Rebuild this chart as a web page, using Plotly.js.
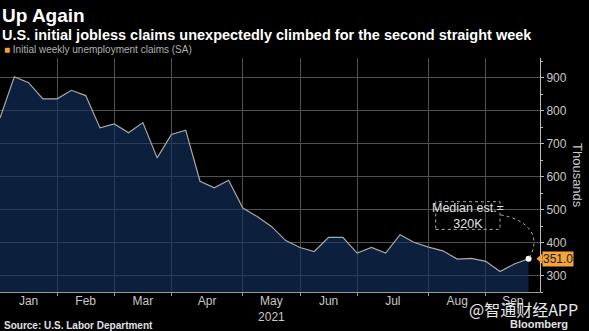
<!DOCTYPE html>
<html>
<head>
<meta charset="utf-8">
<script src="https://cdn.plot.ly/plotly-3.0.1.min.js"></script>
<style>
html,body{margin:0;padding:0;background:#000;}
#chart{width:589px;height:331px;}
</style>
</head>
<body>
<div id="chart"></div>
<script>
// Week-ending dates (2021) and initial weekly jobless claims (thousands, SA)
var weeks = ["2021-01-02","2021-01-09","2021-01-16","2021-01-23","2021-01-30",
  "2021-02-06","2021-02-13","2021-02-20","2021-02-27","2021-03-06","2021-03-13",
  "2021-03-20","2021-03-27","2021-04-03","2021-04-10","2021-04-17","2021-04-24",
  "2021-05-01","2021-05-08","2021-05-15","2021-05-22","2021-05-29","2021-06-05",
  "2021-06-12","2021-06-19","2021-06-26","2021-07-03","2021-07-10","2021-07-17",
  "2021-07-24","2021-07-31","2021-08-07","2021-08-14","2021-08-21","2021-08-28",
  "2021-09-04","2021-09-11","2021-09-18"];
var claims = [778, 903, 885, 836, 836, 862, 846, 748, 760, 733, 764, 657, 728, 741,
  586, 566, 589, 505, 479, 449, 406, 385, 373, 416, 416, 368, 385, 368, 424, 400,
  386, 375, 350, 352, 343, 312, 335, 351];
var monthStarts = ["2021-02-01","2021-03-01","2021-04-01","2021-05-01","2021-06-01",
  "2021-07-01","2021-08-01","2021-09-01"];
var monthLabels = ["Jan","Feb","Mar","Apr","May<br>2021","Jun","Jul","Aug","Sep"];
var yTicks = [300, 400, 500, 600, 700, 800, 900];
var medianEst = 320;

var xIdx = weeks.map(function(_, i){ return i; });
var xMax = 37.8;
// month boundary = last week ending on or before the 1st of the month
var bounds = monthStarts.map(function(m){
  var k = 0;
  for (var i = 0; i < weeks.length; i++) if (weeks[i] <= m) k = i;
  return k;
});
var edges = [0].concat(bounds).concat([xMax]);
var mids = [];
for (var i = 0; i < edges.length - 1; i++) mids.push((edges[i] + edges[i+1]) / 2);

var last = claims.length - 1;
var lastVal = claims[last];

var font = "Liberation Sans, Arial, sans-serif";

var traces = [
  {x: xIdx, y: claims, type: "scatter", mode: "lines", fill: "tozeroy",
   fillcolor: "rgba(18,50,96,0.64)", line: {color: "#a9a9a9", width: 1.2},
   text: weeks, hoverinfo: "text+y", showlegend: false},
  {x: [xIdx[last]], y: [lastVal], type: "scatter", mode: "markers",
   marker: {color: "#ffffff", size: 6}, showlegend: false, hoverinfo: "skip"},
  {x: [xIdx[0]], y: [claims[0]], xaxis: "x2", type: "scatter", mode: "markers",
   marker: {opacity: 0}, showlegend: false, hoverinfo: "skip"}
];

var layout = {
  width: 589, height: 331,
  paper_bgcolor: "#000", plot_bgcolor: "#000",
  margin: {l: 0, r: 49, t: 58, b: 39},
  font: {family: font, color: "#c8c8c8", size: 12},
  showlegend: false,
  xaxis: {
    range: [0, xMax], tickvals: bounds, ticktext: bounds.map(function(){return "";}),
    showgrid: true, gridcolor: "#505050", gridwidth: 1, zeroline: false,
    ticks: "outside", ticklen: 3, tickcolor: "#9a9a9a",
    showline: true, linecolor: "#9a9a9a", linewidth: 1, fixedrange: true
  },
  xaxis2: {
    overlaying: "x", matches: "x", side: "bottom", anchor: "y",
    tickvals: mids, ticktext: monthLabels, showgrid: false, zeroline: false,
    ticks: "", showline: false, tickfont: {size: 12, color: "#c8c8c8", family: font}
  },
  yaxis: {
    side: "right", range: [250, 960], tickvals: yTicks,
    showgrid: true, gridcolor: "#505050", gridwidth: 1, zeroline: false,
    ticks: "outside", ticklen: 3, tickcolor: "#bbbbbb",
    showline: true, linecolor: "#bbbbbb", linewidth: 1,
    minor: {dtick: 50, ticks: "outside", ticklen: 2, tickcolor: "#bbbbbb", showgrid: false},
    tickfont: {size: 12, color: "#c8c8c8", family: font}, fixedrange: true
  },
  shapes: [
    {type: "rect", xref: "x", yref: "y", x0: 30.5, x1: 35.0, y0: 440, y1: 524,
     line: {color: "#aaaaaa", width: 1, dash: "dot"}, fillcolor: "rgba(0,0,0,0)"},
    {type: "path", xref: "x", yref: "y",
     path: "M 35.05 484 C 36.9 470, 38.0 420, " + xIdx[last] + " " + lastVal,
     line: {color: "#aaaaaa", width: 1, dash: "dot"}},
    {type: "path", xref: "paper", yref: "y",
     path: "M 0.9935 " + lastVal + " L 1.0045 " + (lastVal + 16) + " L 1.0045 " + (lastVal - 16) + " Z",
     fillcolor: "#f4a43c", line: {width: 0}}
  ],
  annotations: [
    {xref: "paper", yref: "paper", x: 0, y: 1, xanchor: "left", yanchor: "bottom",
     yshift: 30, align: "left", showarrow: false,
     text: "<b>Up Again</b>", font: {family: font, size: 19, color: "#ffffff"}},
    {xref: "paper", yref: "paper", x: 0, y: 1, xanchor: "left", yanchor: "bottom",
     yshift: 13, align: "left", showarrow: false,
     text: "<b>U.S. initial jobless claims unexpectedly climbed for the second straight week</b>",
     font: {family: font, size: 14.5, color: "#ffffff"}},
    {xref: "paper", yref: "paper", x: 0, y: 1, xanchor: "left", yanchor: "bottom",
     xshift: 2, yshift: 1, align: "left", showarrow: false,
     text: "<span style='color:#f4a43c'>■</span> Initial weekly unemployment claims (SA)",
     font: {family: font, size: 10, color: "#b0b0b0"}},
    {xref: "x", yref: "y", x: 32.75, y: 482, showarrow: false,
     text: "Median est.=<br>" + medianEst + "K",
     font: {family: font, size: 12.5, color: "#e0e0e0"}},
    {xref: "paper", yref: "y", x: 1.0045, y: lastVal, xanchor: "left", showarrow: false,
     text: lastVal.toFixed(1), bgcolor: "#f4a43c", borderpad: 0,
     font: {family: font, size: 12, color: "#1a1a1a"}},
    {xref: "paper", yref: "paper", x: 1, y: 0.5, xanchor: "center", showarrow: false,
     xshift: 38, textangle: 90, text: "Thousands",
     font: {family: font, size: 13, color: "#c8c8c8"}},
    {xref: "paper", yref: "paper", x: 0, y: 0, xanchor: "left", yanchor: "top",
     yshift: -26, xshift: 2, showarrow: false,
     text: "<b>Source: U.S. Labor Department</b>",
     font: {family: font, size: 10, color: "#e0e0e0"}},
    {xref: "paper", yref: "paper", x: 1, y: 0, xanchor: "right", yanchor: "top",
     xshift: 30, yshift: -24, showarrow: false,
     text: "<b>Bloomberg</b>",
     font: {family: font, size: 11, color: "#e0e0e0"}},
    {xref: "paper", yref: "paper", x: 1, y: 0, xanchor: "right", yanchor: "top",
     xshift: 40, yshift: -3, showarrow: false,
     text: "@智通财经APP",
     font: {family: "Noto Sans CJK SC, sans-serif", size: 16, color: "#e8e8e8"}}
  ]
};

Plotly.newPlot("chart", traces, layout, {staticPlot: true, displayModeBar: false});
</script>
</body>
</html>
